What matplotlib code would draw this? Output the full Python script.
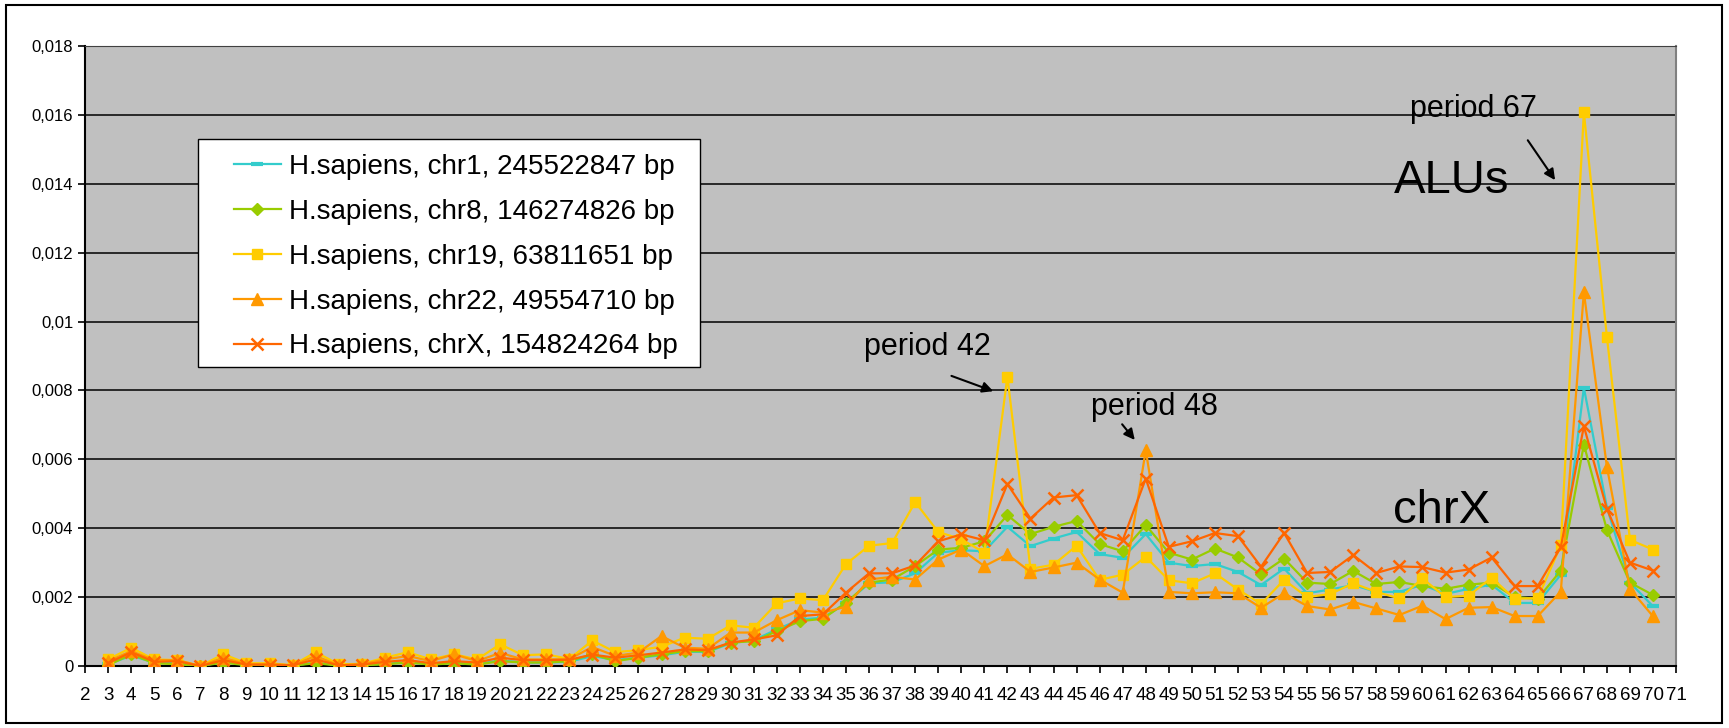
import matplotlib
matplotlib.use("Agg")
import matplotlib.pyplot as plt
from matplotlib.patches import Rectangle

plt.rcParams['font.family'] = ['Liberation Sans', 'DejaVu Sans']

# Periods 3..70 (category axis runs 2..71)
periods = list(range(3, 71))
axis_labels = [str(p) for p in range(2, 72)]

chr1 = [0.00005, 0.0003, 0.0001, 0.00008, 0.0, 0.00012, 0.00003, 0.00003, 0.00001, 0.0001,
        0.00002, 0.00003, 0.00006, 0.00011, 0.00005, 0.0001, 0.00006, 0.00016, 0.0001, 0.0001,
        0.00012, 0.00029, 0.00017, 0.00024, 0.00031, 0.00041, 0.00041, 0.00066, 0.00075, 0.00106,
        0.00135, 0.0014, 0.00182, 0.0024, 0.00243, 0.00269, 0.00329, 0.00336, 0.00333, 0.00404,
        0.00348, 0.0037, 0.00389, 0.00325, 0.00314, 0.00383, 0.003, 0.0029, 0.00296, 0.00273,
        0.00235, 0.00283, 0.00211, 0.00222, 0.00235, 0.00215, 0.00215, 0.00236, 0.00209, 0.00224,
        0.00236, 0.00183, 0.00183, 0.00265, 0.00808, 0.0046, 0.00242, 0.00173]

chr8 = [0.00002, 0.00034, 0.00008, 0.00005, 0.0, 0.0001, 0.00002, 0.00002, 0.00001, 0.00008,
        0.00001, 0.00002, 0.00005, 0.0001, 0.00004, 0.00008, 0.00004, 0.00014, 0.0001, 0.0001,
        0.00014, 0.00034, 0.00014, 0.00024, 0.00034, 0.00043, 0.00043, 0.00068, 0.00072, 0.00101,
        0.0013, 0.00137, 0.00184, 0.00242, 0.00251, 0.0029, 0.00338, 0.00343, 0.00362, 0.00438,
        0.00383, 0.00404, 0.00421, 0.00354, 0.00333, 0.00409, 0.00329, 0.00309, 0.00341, 0.00315,
        0.00266, 0.00312, 0.00242, 0.00238, 0.00276, 0.00238, 0.00244, 0.00232, 0.00224, 0.00236,
        0.00242, 0.002, 0.00195, 0.00277, 0.00643, 0.00395, 0.00242, 0.00206]

chr19 = [0.00019, 0.00053, 0.00019, 0.00017, 0.0, 0.00034, 0.00008, 0.00008, 0.00002, 0.0004,
         0.00005, 0.00006, 0.00024, 0.0004, 0.00019, 0.00034, 0.00019, 0.00063, 0.00031, 0.00034,
         0.0002, 0.00074, 0.0004, 0.00046, 0.00056, 0.00082, 0.00079, 0.00118, 0.00111, 0.00182,
         0.00196, 0.00191, 0.00296, 0.00349, 0.00357, 0.00476, 0.00389, 0.00368, 0.00329, 0.0084,
         0.00282, 0.00294, 0.00349, 0.0025, 0.00265, 0.00317, 0.00249, 0.0024, 0.00269, 0.00222,
         0.0018, 0.0025, 0.002, 0.00209, 0.0024, 0.00215, 0.00196, 0.00254, 0.002, 0.00204,
         0.00256, 0.00195, 0.00197, 0.0035, 0.01607, 0.00955, 0.00366, 0.00338]

chr22 = [0.00014, 0.00043, 0.00017, 0.00017, 0.0, 0.00024, 0.00005, 0.00005, 0.00002, 0.00029,
         0.00002, 0.00005, 0.00019, 0.00029, 0.00014, 0.00034, 0.00014, 0.00038, 0.00019, 0.00019,
         0.0002, 0.00055, 0.00029, 0.00039, 0.00087, 0.00053, 0.0005, 0.00097, 0.00097, 0.00133,
         0.00162, 0.00155, 0.00172, 0.00251, 0.00259, 0.00251, 0.00309, 0.00338, 0.0029, 0.00324,
         0.00273, 0.00286, 0.003, 0.00251, 0.00213, 0.00626, 0.00215, 0.00211, 0.00214, 0.00211,
         0.00169, 0.00211, 0.00174, 0.00164, 0.00186, 0.00167, 0.00148, 0.00175, 0.00136, 0.00169,
         0.00171, 0.00145, 0.00145, 0.00216, 0.01085, 0.00578, 0.00224, 0.00144]

chrX = [0.00008, 0.0004, 0.00012, 0.00014, 0.0, 0.00017, 0.00004, 0.00004, 0.00002, 0.00019,
        0.00002, 0.00004, 0.00012, 0.00017, 0.00008, 0.00014, 0.0001, 0.00024, 0.00017, 0.00017,
        0.00018, 0.00033, 0.00024, 0.00031, 0.00039, 0.00048, 0.00046, 0.00068, 0.00077, 0.00089,
        0.00145, 0.0015, 0.00213, 0.00269, 0.00269, 0.00292, 0.00362, 0.00382, 0.00365, 0.00528,
        0.00428, 0.00489, 0.00496, 0.00386, 0.00365, 0.00544, 0.00346, 0.00362, 0.00386, 0.00377,
        0.00288, 0.00386, 0.0027, 0.00273, 0.00322, 0.0027, 0.00289, 0.00287, 0.00271, 0.0028,
        0.00315, 0.00232, 0.00232, 0.00345, 0.00696, 0.00456, 0.003, 0.00277]

series_labels = ["H.sapiens, chr1, 245522847 bp",
                 "H.sapiens, chr8, 146274826 bp",
                 "H.sapiens, chr19, 63811651 bp",
                 "H.sapiens, chr22, 49554710 bp",
                 "H.sapiens, chrX, 154824264 bp"]

y_ticks = [0, 0.002, 0.004, 0.006, 0.008, 0.01, 0.012, 0.014, 0.016, 0.018]
y_tick_labels = ["0", "0,002", "0,004", "0,006", "0,008", "0,01", "0,012", "0,014", "0,016", "0,018"]

fig = plt.figure(figsize=(17.29, 7.28), dpi=100)
fig.patch.set_facecolor("white")
ax = fig.add_axes([0.0492, 0.0852, 0.9202, 0.8516])
ax.set_facecolor("#C0C0C0")

styles = [
    dict(color="#33CCCC", marker="_", markersize=9, markeredgewidth=3),
    dict(color="#99CC00", marker="D", markersize=6.5),
    dict(color="#FFCC00", marker="s", markersize=7.5),
    dict(color="#FF9900", marker="^", markersize=8),
    dict(color="#FF6600", marker="x", markersize=8.5, markeredgewidth=1.8),
]
for values, label, st in zip([chr1, chr8, chr19, chr22, chrX], series_labels, styles):
    ax.plot(periods, values, label=label, linewidth=1.6, zorder=3, **st)

ax.set_xlim(2, 71)
ax.set_ylim(0, 0.018)
ax.set_xticks(range(2, 72))
ax.set_xticklabels(axis_labels)
ax.set_yticks(y_ticks)
ax.set_yticklabels(y_tick_labels)
ax.tick_params(axis="both", direction="out", length=5, width=1.2, colors="black")
ax.tick_params(axis="y", labelsize=12)
ax.tick_params(axis="x", labelsize=13.5, pad=10)

ax.yaxis.grid(True, color="black", linewidth=1.1)
ax.set_axisbelow(True)
for side in ["left", "bottom"]:
    ax.spines[side].set_color("black")
    ax.spines[side].set_linewidth(1.5)
ax.spines["top"].set_color("#404040")
ax.spines["right"].set_color("#808080")
ax.spines["right"].set_linewidth(1.5)

# Legend box drawn as its own white panel, entries placed inside it
ax.add_patch(Rectangle((0.071, 0.482), 0.3156, 0.368, transform=ax.transAxes,
                       facecolor="white", edgecolor="black", linewidth=1.0, zorder=4))
leg = ax.legend(loc="upper left", bbox_to_anchor=(0.0935, 0.826), fontsize=20,
                frameon=False, handlelength=1.7, handletextpad=0.3,
                labelspacing=0.68, borderpad=0, borderaxespad=0)
leg.set_zorder(5)

# Annotations
arrow_kw = dict(arrowstyle="-|>", color="black", lw=1.5, mutation_scale=16)
ax.text(38.54, 0.00903, "period 42", fontsize=22, ha="center", va="baseline", zorder=6)
ax.annotate("", xy=(41.5, 0.00795), xytext=(39.46, 0.00845), arrowprops=arrow_kw, zorder=6)
ax.text(48.39, 0.0073, "period 48", fontsize=22, ha="center", va="baseline", zorder=6)
ax.annotate("", xy=(47.6, 0.0065), xytext=(46.9, 0.00708), arrowprops=arrow_kw, zorder=6)
ax.text(62.2, 0.01595, "period 67", fontsize=22, ha="center", va="baseline", zorder=6)
ax.annotate("", xy=(65.82, 0.01404), xytext=(64.5, 0.01533), arrowprops=arrow_kw, zorder=6)
ax.text(61.25, 0.01374, "ALUs", fontsize=34, ha="center", va="baseline", zorder=6)
ax.text(60.83, 0.00415, "chrX", fontsize=34, ha="center", va="baseline", zorder=6)

# Outer frame around the whole figure
fig.patches.append(Rectangle((6 / 1729, 5 / 728), 1716 / 1729, 718 / 728,
                             transform=fig.transFigure, fill=False,
                             edgecolor="black", linewidth=1.5))

fig.savefig("out.png", dpi=100)
